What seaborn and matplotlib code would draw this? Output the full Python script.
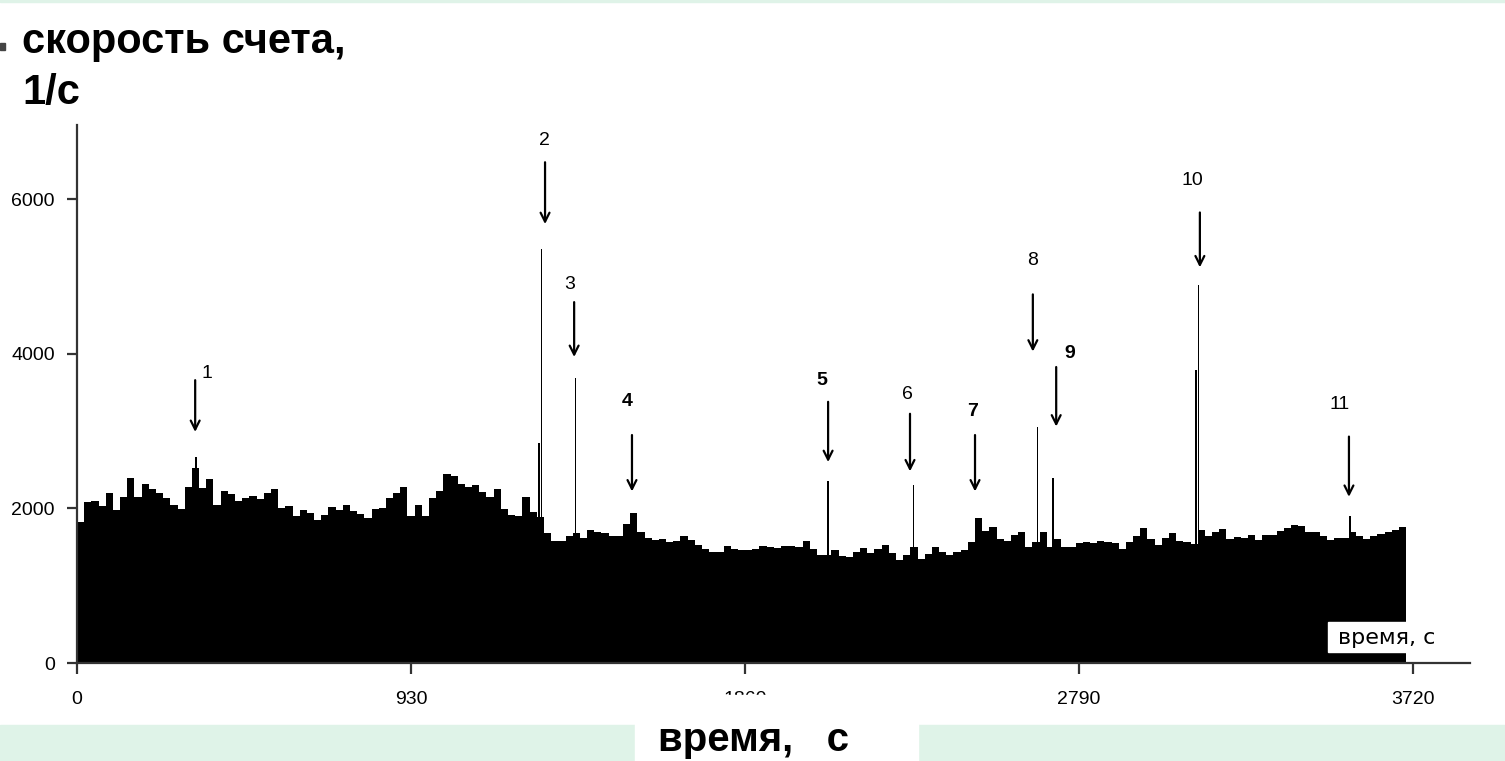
import numpy as np
import pandas as pd
import matplotlib
matplotlib.use("Agg")
import matplotlib.pyplot as plt
from matplotlib.patches import Rectangle
import seaborn as sns

# count rate (1/s) in 20 s bins
BIN_WIDTH = 20
base_rate = [
    1830, 2080, 2100, 2030, 2200, 1980, 2150, 2390, 2150, 2320,
    2250, 2200, 2130, 2050, 1990, 2280, 2520, 2260, 2380, 2040,
    2220, 2190, 2100, 2130, 2160, 2120, 2200, 2250, 2000, 2030,
    1900, 1980, 1940, 1850, 1920, 2020, 1980, 2050, 1970, 1930,
    1870, 1990, 2010, 2130, 2200, 2280, 1900, 2050, 1900, 2140,
    2230, 2440, 2420, 2320, 2280, 2300, 2210, 2150, 2250, 1990,
    1920, 1900, 2150, 1950, 1890, 1680, 1575, 1575, 1640, 1680,
    1620, 1720, 1690, 1680, 1640, 1640, 1800, 1940, 1700, 1620,
    1590, 1600, 1560, 1580, 1640, 1590, 1530, 1470, 1440, 1440,
    1510, 1470, 1460, 1466, 1470, 1510, 1495, 1488, 1510, 1510,
    1500, 1574, 1470, 1400, 1400, 1460, 1380, 1370, 1440, 1490,
    1423, 1470, 1531, 1420, 1330, 1400, 1500, 1340, 1410, 1500,
    1430, 1400, 1440, 1466, 1560, 1880, 1710, 1760, 1600, 1574,
    1650, 1700, 1500, 1560, 1700, 1500, 1610, 1500, 1500, 1552,
    1560, 1552, 1580, 1560, 1552, 1480, 1560, 1640, 1746, 1600,
    1530, 1620, 1680, 1580, 1560, 1540, 1720, 1638, 1700, 1740,
    1610, 1630, 1617, 1660, 1590, 1650, 1660, 1710, 1746, 1780,
    1770, 1690, 1690, 1640, 1590, 1620, 1617, 1700, 1638, 1600,
    1640, 1670, 1690, 1720, 1760,
]

# narrow spikes (time s, rate 1/s)
spike_t = [331, 1285, 1292, 1388, 2091, 2328, 2673, 2718, 3115, 3121, 3544]
spike_v = [2670, 2850, 5355, 3690, 2350, 2300, 3060, 2390, 3790, 4890, 1900]

# peak markers: label, time, arrow top, arrow tip, label position
peak_labels = ["1", "2", "3", "4", "5", "6", "7", "8", "9", "10", "11"]
peak_t = [329, 1303, 1384, 1545, 2091, 2319, 2500, 2661, 2726, 3126, 3541]
arrow_top = [3660, 6480, 4670, 2950, 3380, 3225, 2950, 4770, 3830, 5830, 2930]
arrow_tip = [2990, 5680, 3960, 2220, 2600, 2480, 2220, 4030, 3060, 5120, 2150]
label_t = [362, 1300, 1372, 1531, 2074, 2313, 2492, 2659, 2764, 3104, 3516]
label_v = [3740, 6760, 4900, 3380, 3660, 3480, 3250, 5210, 4000, 6240, 3350]
bold_labels = {"4", "5", "7", "9"}

x_ticks = [0, 930, 1860, 2790, 3720]
y_ticks = [0, 2000, 4000, 6000]

sns.set_style("ticks")
plt.rcParams["font.family"] = ["Liberation Sans", "DejaVu Sans"]
plt.rcParams["text.color"] = "black"
plt.rcParams["xtick.color"] = "black"
plt.rcParams["ytick.color"] = "black"

W, H = 1505, 761
fig = plt.figure(figsize=(W / 100, H / 100), dpi=100)
ax = fig.add_axes([77 / W, 98 / H, (1470 - 77) / W, (663 - 125) / H])

n = len(base_rate)
df = pd.DataFrame({"t": np.arange(n) * BIN_WIDTH + BIN_WIDTH / 2, "rate": base_rate})
sns.histplot(data=df, x="t", weights="rate", binwidth=BIN_WIDTH,
             binrange=(0, n * BIN_WIDTH), element="step", fill=True,
             color="black", alpha=1, linewidth=0, ax=ax)

spike_w = [4, 6, 3, 3, 5, 3, 3, 6, 6, 3, 4]
ax.bar(spike_t, spike_v, width=spike_w, color="black", linewidth=0)

for lab, t, top, tip, lt, lv in zip(peak_labels, peak_t, arrow_top, arrow_tip, label_t, label_v):
    ax.annotate("", xy=(t, tip), xytext=(t, top),
                arrowprops=dict(arrowstyle="->", color="black", lw=1.6,
                                shrinkA=0, shrinkB=0, mutation_scale=16))
    ax.text(lt, lv, lab, fontsize=14, ha="center", va="center", color="black",
            weight="bold" if lab in bold_labels else "normal")

ax.set_xlim(0, 3878)
ax.set_ylim(0, 6962)
ax.set_xticks(x_ticks)
ax.set_yticks(y_ticks)
ax.set_xlabel("")
ax.set_ylabel("")
sns.despine(ax=ax)
for s in ("left", "bottom"):
    ax.spines[s].set_linewidth(1.6)
    ax.spines[s].set_color("#333333")
ax.tick_params(axis="x", length=8, width=1.6, pad=12, labelsize=14,
               color="#333333", labelcolor="black")
ax.tick_params(axis="y", length=7, width=1.6, pad=9, labelsize=14,
               color="#333333", labelcolor="black")

# small label inside the plot
fig.add_artist(Rectangle((1328 / W, 1 - 652 / H), 132 / W, 30 / H,
                         transform=fig.transFigure, color="white", zorder=5))
fig.text(1338 / W, 1 - 638 / H, "время, с", fontsize=16, va="center",
         family="DejaVu Sans", color="black", zorder=6)

# slide-style decorations
green = "#dff3e8"
fig.add_artist(Rectangle((0, 0), 635 / W, 36 / H, transform=fig.transFigure,
                         color=green, zorder=4))
fig.add_artist(Rectangle((918 / W, 0), (W - 918) / W, 36 / H,
                         transform=fig.transFigure, color=green, zorder=4))
fig.add_artist(Rectangle((635 / W, 0), 283 / W, 66 / H, transform=fig.transFigure,
                         color="white", zorder=5))
fig.add_artist(Rectangle((0, 1 - 2 / H), 1, 2 / H, transform=fig.transFigure,
                         color=green, zorder=4))
# bullet of the slide text, clipped by the left edge
fig.add_artist(Rectangle((0, 1 - 50 / H), 5 / W, 7 / H, transform=fig.transFigure,
                         color="#444444", zorder=4))

fig.text(753 / W, 1 - 740 / H, "время,   с", fontsize=29, weight="bold",
         ha="center", va="center", color="black", zorder=6)
fig.text(22 / W, 1 - 53 / H, "скорость счета,", fontsize=30, weight="bold",
         va="baseline", color="black")
fig.text(22 / W, 1 - 104 / H, "1/с", fontsize=30, weight="bold", va="baseline",
         color="black")

fig.savefig("out.png", dpi=100)
